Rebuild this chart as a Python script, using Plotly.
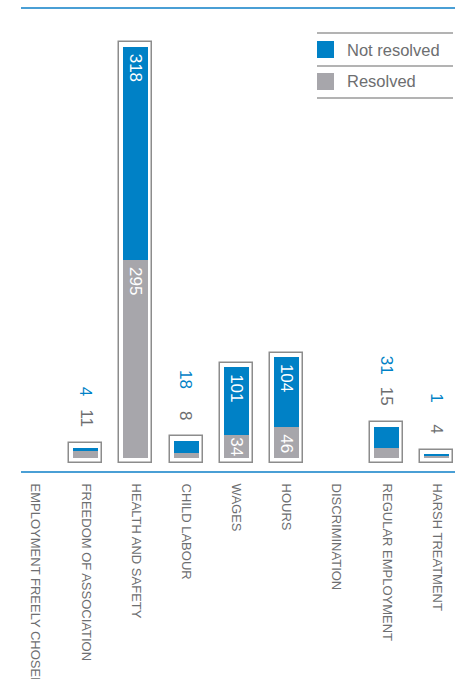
import plotly.graph_objects as go

categories = ["EMPLOYMENT FREELY CHOSEN", "FREEDOM OF ASSOCIATION", "HEALTH AND SAFETY",
              "CHILD LABOUR", "WAGES", "HOURS", "DISCRIMINATION",
              "REGULAR EMPLOYMENT", "HARSH TREATMENT"]
resolved = [0, 11, 295, 8, 34, 46, 0, 15, 4]
not_resolved = [0, 4, 318, 18, 101, 104, 0, 31, 1]

BLUE = "#0081C6"
GREY = "#A7A6AB"
TEXT = "#6D6E70"
AXIS = "#4A9FD5"
FONT = "Liberation Sans Narrow, Arial Narrow, Liberation Sans, sans-serif"

W, H = 462, 679
ML, MR, MT, MB = 21, 7, 9, 208
PW, PH = W - ML - MR, H - MT - MB
YR = [-19.4, 669]
SCALE = PH / (YR[1] - YR[0])

def px(x):
    return (x - ML) / PW

def py(y):
    return (H - MB - y) / PH

def inner_shift(value, label):
    room = value * SCALE - 10 * len(label) - 2
    return -max(0, min(6, room))

totals = [r + n for r, n in zip(resolved, not_resolved)]
pad = 7
frame_y = [t + 2 * pad if t > 0 else None for t in totals]

fig = go.Figure()
fig.add_trace(go.Bar(x=categories, y=frame_y, base=[-pad] * len(categories), width=0.66,
                     marker=dict(color="white", line=dict(color="#8C8C8C", width=1.5)),
                     showlegend=False, hoverinfo="skip"))
fig.add_trace(go.Bar(x=categories, y=resolved, base=[0] * len(categories), width=0.5,
                     marker=dict(color=GREY, line=dict(width=0)), name="Resolved",
                     showlegend=False))
fig.add_trace(go.Bar(x=categories, y=not_resolved, base=resolved, width=0.5,
                     marker=dict(color=BLUE, line=dict(width=0)), name="Not resolved",
                     showlegend=False))

annotations = []
for c, r, n, t in zip(categories, resolved, not_resolved, totals):
    if t == 0:
        continue
    if t >= 100:
        annotations.append(dict(x=c, y=t, text=str(n), textangle=90, showarrow=False,
                                yanchor="top", yshift=inner_shift(n, str(n)), borderpad=0,
                                font=dict(family=FONT, size=17, color="white")))
        annotations.append(dict(x=c, y=r, text=str(r), textangle=90, showarrow=False,
                                yanchor="top", yshift=inner_shift(r, str(r)), borderpad=0,
                                font=dict(family=FONT, size=17, color="white")))
    else:
        annotations.append(dict(x=c, y=t, text=str(r), textangle=90, showarrow=False,
                                yanchor="bottom", yshift=19,
                                font=dict(family=FONT, size=17, color=TEXT)))
        annotations.append(dict(x=c, y=t, text=str(n), textangle=90, showarrow=False,
                                yanchor="bottom", yshift=50,
                                font=dict(family=FONT, size=17, color=BLUE)))

# legend
shapes = []
for yl in [33, 66, 98]:
    shapes.append(dict(type="line", xref="paper", yref="paper", x0=px(317), x1=px(453),
                       y0=py(yl), y1=py(yl), line=dict(color="#9A9A9A", width=1.5)))
for (y0, y1, col, lab, yc) in [(41, 58, BLUE, "Not resolved", 50), (73, 90, GREY, "Resolved", 81)]:
    shapes.append(dict(type="rect", xref="paper", yref="paper", x0=px(317), x1=px(334),
                       y0=py(y1), y1=py(y0), fillcolor=col, line=dict(width=0)))
    annotations.append(dict(xref="paper", yref="paper", x=px(345), y=py(yc), text=lab,
                            xanchor="left", yanchor="middle", showarrow=False,
                            font=dict(family=FONT, size=16.5, color=TEXT)))

fig.update_layout(
    width=W, height=H, margin=dict(l=ML, r=MR, t=MT, b=MB, autoexpand=False),
    barmode="overlay", plot_bgcolor="white", paper_bgcolor="white",
    annotations=annotations, shapes=shapes, bargap=0,
)
fig.update_xaxes(range=[-0.29, 8.36], showline=True, linecolor=AXIS, linewidth=2, mirror=True,
                 tickangle=90, ticks="", tickfont=dict(family=FONT, size=13, color=TEXT),
                 showgrid=False, zeroline=False, ticklabelstandoff=8, automargin=False)
fig.update_yaxes(range=YR, visible=False, showgrid=False, zeroline=False,
                 automargin=False)

fig.write_html("out.html")
